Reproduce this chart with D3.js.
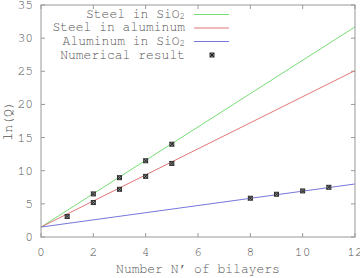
<!DOCTYPE html>
<html lang="en">
<head>
<meta charset="utf-8">
<title>ln(Q) vs bilayers</title>
<script src="https://d3js.org/d3.v7.min.js"></script>
<style>
  body { margin: 0; background: white; }
  svg text { fill: #555; }
</style>
</head>
<body>
<div id="container"></div>
<script>
var w = 360, h = 278;

// data
var xTicks = [0, 2, 4, 6, 8, 10, 12];
var yTicks = [0, 5, 10, 15, 20, 25, 30, 35];
var seriesNames = ["Steel in SiO", "Steel in aluminum", "Aluminum in SiO"];
var seriesSub = ["2", "", "2"];
var seriesColors = ["#77dd77", "#e07777", "#7777dd"];
var lineSteelSiO2 = [[0, 1.5], [12, 31.7]];
var lineSteelAl = [[0, 1.5], [12, 25.1]];
var lineAlSiO2 = [[0, 1.5], [12, 8.0]];
var ptsSteelSiO2 = [[2, 6.5], [3, 8.95], [4, 11.5], [5, 14.0]];
var ptsSteelAl = [[1, 3.1], [2, 5.2], [3, 7.2], [4, 9.15], [5, 11.1]];
var ptsAlSiO2 = [[8, 5.85], [9, 6.45], [10, 6.95], [11, 7.5]];

var lines = [lineSteelSiO2, lineSteelAl, lineAlSiO2];
var points = [].concat(ptsSteelSiO2, ptsSteelAl, ptsAlSiO2);

var m = {left: 41, right: 5, top: 5, bottom: 41};
var mono = "FreeMono, 'Courier New', monospace";

var svg = d3.select("#container").append("svg")
  .attr("width", w).attr("height", h);

var x = d3.scaleLinear().domain([0, 12]).range([m.left, w - m.right]);
var y = d3.scaleLinear().domain([0, 35]).range([h - m.bottom, m.top]);

var frame = "#999";

// ticks (inside, mirrored)
svg.selectAll("line.xt").data(xTicks).enter().append("line")
  .attr("x1", d => x(d)).attr("x2", d => x(d))
  .attr("y1", y(0)).attr("y2", y(0) - 4)
  .attr("stroke", frame);
svg.selectAll("line.xt2").data(xTicks).enter().append("line")
  .attr("x1", d => x(d)).attr("x2", d => x(d))
  .attr("y1", y(35)).attr("y2", y(35) + 4)
  .attr("stroke", frame);
svg.selectAll("line.yt").data(yTicks).enter().append("line")
  .attr("x1", x(0)).attr("x2", x(0) + 4)
  .attr("y1", d => y(d)).attr("y2", d => y(d))
  .attr("stroke", frame);
svg.selectAll("line.yt2").data(yTicks).enter().append("line")
  .attr("x1", x(12)).attr("x2", x(12) - 4)
  .attr("y1", d => y(d)).attr("y2", d => y(d))
  .attr("stroke", frame);

// tick labels
svg.selectAll("text.xl").data(xTicks).enter().append("text")
  .attr("x", d => x(d)).attr("y", y(0) + 19)
  .attr("text-anchor", "middle")
  .style("font-family", mono).style("font-size", "13px")
  .text(d => d);
svg.selectAll("text.yl").data(yTicks).enter().append("text")
  .attr("x", x(0) - 8).attr("y", d => y(d) + 4)
  .attr("text-anchor", "end")
  .style("font-family", mono).style("font-size", "13px")
  .text(d => d);

// axis labels
svg.append("text")
  .attr("x", (x(0) + x(12)) / 2).attr("y", h - 5)
  .attr("text-anchor", "middle")
  .style("font-family", mono).style("font-size", "13px")
  .text("Number N\u2019 of bilayers");
svg.append("text")
  .attr("transform", "translate(12," + ((y(0) + y(35)) / 2) + ") rotate(-90)")
  .attr("text-anchor", "middle")
  .style("font-family", mono).style("font-size", "13px")
  .text("ln(Q)");

// lines
var line = d3.line().x(d => x(d[0])).y(d => y(d[1]));
svg.selectAll("path.fit").data(lines).enter().append("path")
  .attr("d", line)
  .attr("fill", "none")
  .attr("stroke", (d, i) => seriesColors[i])
  .attr("stroke-width", 1);

// markers
function marker(g, cx, cy) {
  g.append("rect").attr("x", cx - 2).attr("y", cy - 2)
    .attr("width", 4).attr("height", 4)
    .attr("fill", "#999").attr("stroke", "#333").attr("stroke-width", 1);
  g.append("path")
    .attr("d", "M" + (cx - 2) + "," + (cy - 2) + "L" + (cx + 2) + "," + (cy + 2) +
               "M" + (cx + 2) + "," + (cy - 2) + "L" + (cx - 2) + "," + (cy + 2))
    .attr("stroke", "#222").attr("stroke-width", 1);
}
var mg = svg.append("g");
points.forEach(p => marker(mg, x(p[0]), y(p[1])));

// frame
svg.append("rect")
  .attr("x", x(0)).attr("y", y(35))
  .attr("width", x(12) - x(0)).attr("height", y(0) - y(35))
  .attr("fill", "none").attr("stroke", frame);

// legend
var legY = [14.5, 28, 41.5, 55];
var lg = svg.append("g");
seriesNames.forEach(function(name, i) {
  var t = lg.append("text")
    .attr("x", 185).attr("y", legY[i] + 3)
    .attr("text-anchor", "end")
    .style("font-family", mono).style("font-size", "13px");
  t.append("tspan").text(name);
  if (seriesSub[i]) {
    t.append("tspan").attr("dy", 1.5).style("font-size", "9px").text(seriesSub[i]);
  }
  lg.append("line")
    .attr("x1", 194).attr("x2", 229)
    .attr("y1", legY[i]).attr("y2", legY[i])
    .attr("stroke", seriesColors[i]);
});
lg.append("text")
  .attr("x", 185).attr("y", legY[3] + 4)
  .attr("text-anchor", "end")
  .style("font-family", mono).style("font-size", "13px")
  .text("Numerical result");
marker(lg, 212, legY[3]);
</script>
</body>
</html>
